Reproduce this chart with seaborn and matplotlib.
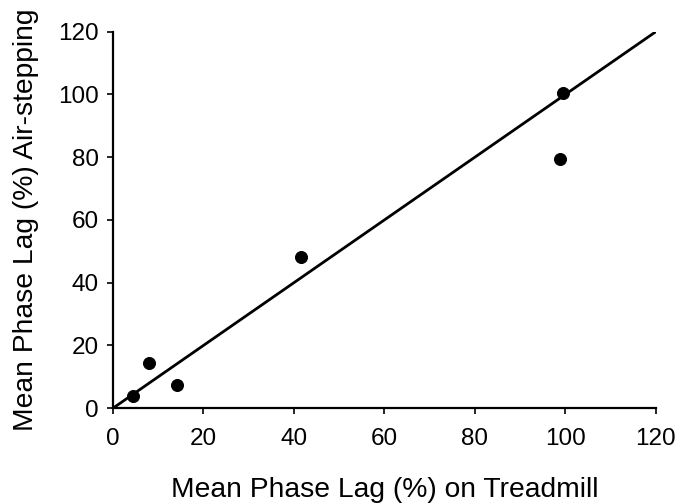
import matplotlib
matplotlib.use("Agg")
import matplotlib.pyplot as plt
import seaborn as sns
import pandas as pd

treadmill = [4.4, 8.0, 14.1, 41.5, 98.8, 99.4]
air_stepping = [3.8, 14.4, 7.3, 48.2, 79.5, 100.5]
line_x = [0, 120]
line_y = [0, 120]
ticks = [0, 20, 40, 60, 80, 100, 120]

sns.set_theme(style="ticks")
plt.rcParams['font.family'] = ['Liberation Sans', 'DejaVu Sans']

df = pd.DataFrame({"x": treadmill, "y": air_stepping})
fig = plt.figure(figsize=(6.76, 5.04), dpi=100)
ax = fig.add_axes([0.167, 0.190, 0.803, 0.747])

sns.lineplot(x=line_x, y=line_y, ax=ax, color="black", linewidth=2.0)
sns.scatterplot(data=df, x="x", y="y", ax=ax, color="black", s=75, edgecolor="black", zorder=3)

ax.set_xlim(0, 120)
ax.set_ylim(0, 120)
ax.set_xticks(ticks)
ax.set_yticks(ticks)
ax.tick_params(axis="both", labelsize=17.5, length=4, width=1.2, color="black", labelcolor="black")
ax.tick_params(axis="x", pad=10)
ax.tick_params(axis="y", pad=6)
for s in ["top", "right"]:
    ax.spines[s].set_visible(False)
for s in ["left", "bottom"]:
    ax.spines[s].set_color("black")
    ax.spines[s].set_linewidth(1.6)
ax.set_xlabel("Mean Phase Lag (%) on Treadmill", fontsize=20.3, color="black", labelpad=20)
ax.set_ylabel("Mean Phase Lag (%) Air-stepping", fontsize=20.3, color="black", labelpad=14)

fig.savefig("out.png", dpi=100)
